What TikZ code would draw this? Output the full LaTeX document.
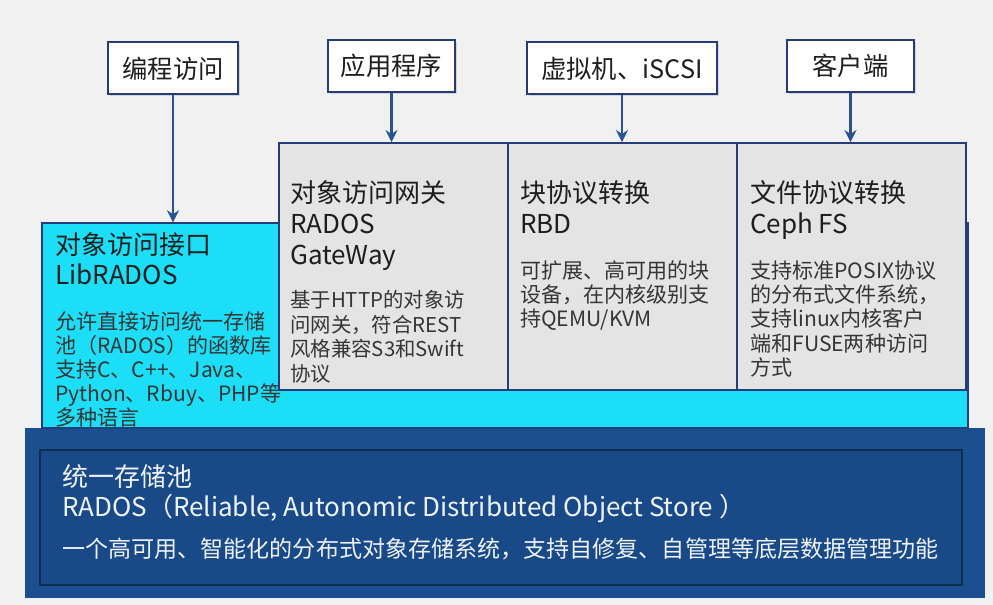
\documentclass[tikz,border=0pt]{standalone}
\usepackage{fontspec}
\setmainfont{Noto Sans CJK SC}
\usetikzlibrary{arrows.meta,fit,shadows}
\definecolor{bgc}{HTML}{F1F1F1}
\definecolor{navy}{HTML}{263C78}
\definecolor{arrowc}{HTML}{2B5392}
\definecolor{cyanc}{HTML}{1CDEF6}
\definecolor{grayc}{HTML}{E4E4E4}
\definecolor{deepblue}{HTML}{1C4F8F}
\definecolor{innerblue}{HTML}{194987}
\definecolor{txt}{HTML}{1E1E1E}
\definecolor{wtxt}{HTML}{EEF3FA}
\tikzset{
  topbox/.style={draw=navy, line width=1.5pt, fill=white, inner sep=0pt,
    minimum height=39pt, font=\fontsize{19}{22}\selectfont, text=txt,
    drop shadow={shadow xshift=1.5pt, shadow yshift=-1.5pt, opacity=0.25}},
  panel/.style={draw=navy, line width=1.4pt, inner sep=0pt},
  ttl/.style={anchor=base west, inner sep=0pt, text=txt, font=\fontsize{19.5}{22}\selectfont},
  dsc/.style={anchor=base west, inner sep=0pt, text=txt!90, font=\fontsize{15.8}{18}\selectfont},
  wttl/.style={anchor=base west, inner sep=0pt, text=wtxt, font=\fontsize{19.5}{22}\selectfont},
  wdsc/.style={anchor=base west, inner sep=0pt, text=wtxt, font=\fontsize{17.3}{20}\selectfont},
  arr/.style={draw=arrowc, line width=1.9pt, -{Stealth[length=9pt,width=9pt]}},
}
\begin{document}
\begin{tikzpicture}[x=0.75pt,y=-0.75pt]
\useasboundingbox (0,0) rectangle (993,605);
\fill[bgc] (0,0) rectangle (993,605);

% bottom dark pool
\node[fit={(25,428) (985,598)}, inner sep=0pt, fill=deepblue] (pool) {};
\node[fit={(40,450) (962,585)}, inner sep=0pt, fill=innerblue, draw=black!40!innerblue, line width=1pt] (poolin) {};
\node[wttl] (p1) at (62,487) {统一存储池};
\node[wttl] (p2) at (62,517) {RADOS（Reliable, Autonomic Distributed Object Store ）};
\node[wdsc] (p3) at (62,558) {一个高可用、智能化的分布式对象存储系统，支持自修复、自管理等底层数据管理功能};

% cyan LibRADOS
\node[fit={(42,223) (968,428)}, inner sep=0pt, fill=cyanc, draw=navy, line width=1pt] (cyanbox) {};
\node[ttl] (c1) at (55,255) {对象访问接口};
\node[ttl] (c2) at (55,285) {LibRADOS};
\foreach \t [count=\i] in {允许直接访问统一存储, 池（RADOS）的函数库, 支持C、C++、Java、, Python、Rbuy、PHP等, 多种语言}
  \node[dsc] (cd\i) at (55,306+24*\i) {\t};

% gray panels
\node[panel, fill=grayc, fit={(279,143) (508,390)}] (g1) {};
\node[panel, fill=grayc, fit={(508,143) (737,390)}] (g2) {};
\node[panel, fill=grayc, fit={(737,143) (966,390)}] (g3) {};

\node[ttl] (g1a) at (290,203) {对象访问网关};
\node[ttl] (g1b) at (290,234) {RADOS};
\node[ttl] (g1c) at (290,265) {GateWay};
\foreach \t [count=\i] in {基于HTTP的对象访, 问网关，符合REST, 风格兼容S3和Swift, 协议}
  \node[dsc, font=\fontsize{15.3}{18}\selectfont] (g1d\i) at (290,283.5+24.5*\i) {\t};

\node[ttl] (g2a) at (520,203) {块协议转换};
\node[ttl] (g2b) at (520,234) {RBD};
\foreach \t [count=\i] in {可扩展、高可用的块, 设备，在内核级别支, 持QEMU/KVM}
  \node[dsc] (g2d\i) at (520,254+24.3*\i) {\t};

\node[ttl] (g3a) at (750,203) {文件协议转换};
\node[ttl] (g3b) at (750,234) {Ceph FS};
\foreach \t [count=\i] in {支持标准POSIX协议, 的分布式文件系统，, 支持linux内核客户, 端和FUSE两种访问, 方式}
  \node[dsc] (g3d\i) at (750,254+24.3*\i) {\t};

% top boxes
\node[topbox, minimum width=97.5pt] (t1) at (173,68.5) {编程访问};
\node[topbox, minimum width=95pt] (t2) at (391.5,66) {应用程序};
\node[topbox, minimum width=142.5pt] (t3) at (622,68.5) {虚拟机、iSCSI};
\node[topbox, minimum width=95pt] (t4) at (850.5,66) {客户端};

% arrows
\draw[arr] (t1.south) -- (t1.south |- cyanbox.north);
\draw[arr] (t2.south) -- (t2.south |- g1.north);
\draw[arr] (t3.south) -- (t3.south |- g2.north);
\draw[arr] (t4.south) -- (t4.south |- g3.north);
\end{tikzpicture}
\end{document}
